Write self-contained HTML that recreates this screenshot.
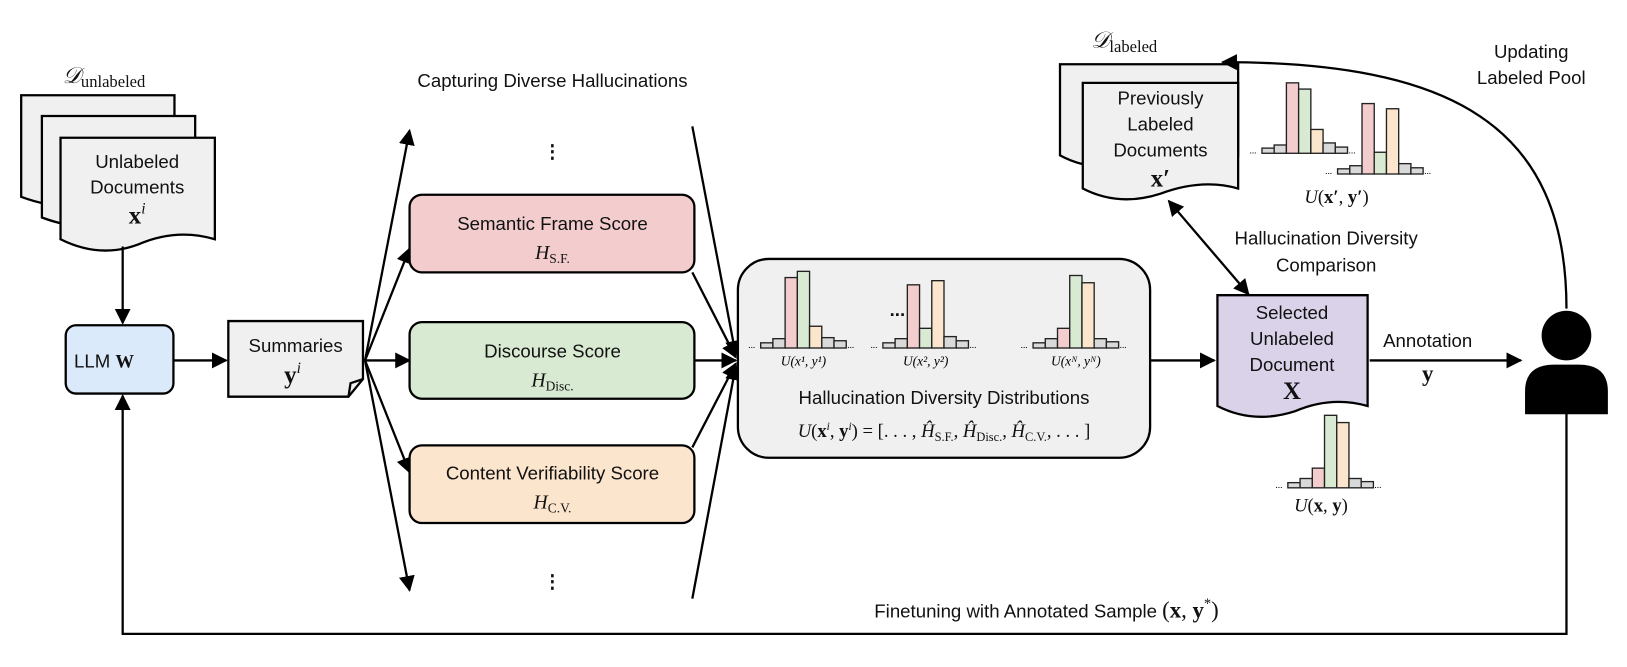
<!DOCTYPE html>
<html><head><meta charset="utf-8"><style>
html,body{margin:0;padding:0;background:#fff;width:1627px;height:667px;overflow:hidden}
svg{display:block}
.t{font-family:"Liberation Sans",sans-serif;font-size:18px;fill:#111;text-anchor:middle}
.m{font-family:"Liberation Serif",serif;fill:#111;text-anchor:middle}
</style></head><body>
<svg id="fig" width="1627" height="667" viewBox="0 0 1570 644">
<defs><marker id="ah" viewBox="0 0 10 10" refX="9" refY="5" markerWidth="7" markerHeight="7" orient="auto-start-reverse"><path d="M0,0L10,5L0,10z" fill="#000"/></marker></defs>
<g stroke="#000" stroke-width="2.2" fill="none">
<path d="M20,92H168V190Q130,180 95,195Q60,205 20,190Z" fill="#f0f0f0"/>
<path d="M40,112H188V210Q150,200 115,215Q80,225 40,210Z" fill="#f0f0f0"/>
<path d="M58,133H207V231Q170,220 133,236Q96,250 58,231Z" fill="#f0f0f0"/>
<line x1="118" y1="238" x2="118" y2="312" marker-end="url(#ah)"/>
<rect x="63" y="314" width="104" height="66" rx="10" fill="#dbeafb"/>
<line x1="167" y1="348" x2="218" y2="348" marker-end="url(#ah)"/>
<path d="M220,310H350V366L336,383H220Z" fill="#f0f0f0"/>
<path d="M350,366L338,370L336,383" />
<line x1="352" y1="348" x2="395" y2="126" marker-end="url(#ah)"/>
<line x1="352" y1="348" x2="395" y2="240" marker-end="url(#ah)"/>
<line x1="352" y1="348" x2="395" y2="348" marker-end="url(#ah)"/>
<line x1="352" y1="348" x2="395" y2="456" marker-end="url(#ah)"/>
<line x1="352" y1="348" x2="395" y2="570" marker-end="url(#ah)"/>
<rect x="395" y="188" width="275" height="75" rx="12" fill="#f3cccd"/>
<rect x="395" y="311" width="275" height="74" rx="12" fill="#d9ead3"/>
<rect x="395" y="430" width="275" height="75" rx="12" fill="#fce5cd"/>
<line x1="668" y1="122" x2="710" y2="343" marker-end="url(#ah)"/>
<line x1="668" y1="263" x2="710" y2="345" marker-end="url(#ah)"/>
<line x1="670" y1="348" x2="710" y2="348" marker-end="url(#ah)"/>
<line x1="668" y1="432" x2="710" y2="351" marker-end="url(#ah)"/>
<line x1="668" y1="578" x2="710" y2="353" marker-end="url(#ah)"/>
<rect x="712" y="250" width="398" height="192" rx="30" fill="#f0f0f0"/>
<line x1="1110" y1="348" x2="1172" y2="348" marker-end="url(#ah)"/>
<path d="M1175,285H1320V392Q1285,382 1250,397Q1210,410 1175,392Z" fill="#d9d2e9"/>
<line x1="1322" y1="348" x2="1468" y2="348" marker-end="url(#ah)"/>
<path d="M1023,62H1195V150Q1150,140 1110,155Q1060,170 1023,150Z" fill="#f0f0f0"/>
<path d="M1045,80H1195V182Q1160,172 1120,187Q1080,200 1045,182Z" fill="#f0f0f0"/>
<line x1="1128" y1="194" x2="1205" y2="284" marker-start="url(#ah)" marker-end="url(#ah)"/>
<path d="M1512,298C1512,120 1400,60 1180,60" marker-end="url(#ah)"/>
<path d="M1512,390V612H118V382" marker-end="url(#ah)"/>
</g>
<g>
<circle cx="1512" cy="324" r="24" fill="#000"/>
<path d="M1472,400V378Q1472,352 1500,352H1524Q1552,352 1552,378V400Z" fill="#000"/>
</g>
<g id="hists"></g>
<text class="m" x="100" y="80" font-size="22" font-style="italic">𝒟<tspan font-size="16" font-style="normal" dy="4">unlabeled</tspan></text>
<text class="t" x="132" y="162">Unlabeled</text>
<text class="t" x="132" y="187">Documents</text>
<text class="m" x="132" y="216" font-size="24" font-weight="bold">x<tspan font-style="italic" font-weight="normal" font-size="15" dy="-10">i</tspan></text>
<text class="t" x="100" y="355">LLM <tspan font-family="Liberation Serif" font-weight="bold">W</tspan></text>
<text class="t" x="285" y="340">Summaries</text>
<text class="m" x="282" y="370" font-size="24" font-weight="bold">y<tspan font-style="italic" font-weight="normal" font-size="15" dy="-10">i</tspan></text>
<text class="t" x="533" y="84">Capturing Diverse Hallucinations</text>
<text class="t" x="533" y="152" font-size="38" font-weight="bold">⋮</text>
<text class="t" x="533" y="567" font-size="38" font-weight="bold">⋮</text>
<text class="t" x="533" y="222">Semantic Frame Score</text>
<text class="m" x="533" y="250" font-size="19" font-style="italic">H<tspan font-style="normal" font-size="13" dy="4">S.F.</tspan></text>
<text class="t" x="533" y="345">Discourse Score</text>
<text class="m" x="533" y="373" font-size="19" font-style="italic">H<tspan font-style="normal" font-size="13" dy="4">Disc.</tspan></text>
<text class="t" x="533" y="463">Content Verifiability Score</text>
<text class="m" x="533" y="491" font-size="19" font-style="italic">H<tspan font-style="normal" font-size="13" dy="4">C.V.</tspan></text>
<text class="t" x="866" y="305" font-size="22" font-weight="bold">...</text>
<text class="t" x="911" y="390">Hallucination Diversity Distributions</text>
<text class="m" x="911" y="422" font-size="18"><tspan font-style="italic">U</tspan>(<tspan font-weight="bold">x</tspan><tspan font-size="11" dy="-7" font-style="italic">i</tspan><tspan dy="7">, </tspan><tspan font-weight="bold">y</tspan><tspan font-size="11" dy="-7" font-style="italic">i</tspan><tspan dy="7">) = [. . . , </tspan><tspan font-style="italic">Ĥ</tspan><tspan font-size="12" dy="4">S.F.</tspan><tspan dy="-4">, </tspan><tspan font-style="italic">Ĥ</tspan><tspan font-size="12" dy="4">Disc.</tspan><tspan dy="-4">, </tspan><tspan font-style="italic">Ĥ</tspan><tspan font-size="12" dy="4">C.V.</tspan><tspan dy="-4">, . . . ]</tspan></text>
<text class="t" x="1247" y="308">Selected</text>
<text class="t" x="1247" y="333">Unlabeled</text>
<text class="t" x="1247" y="358">Document</text>
<text class="m" x="1247" y="385" font-size="24" font-weight="bold">X</text>
<text class="t" x="1378" y="335">Annotation</text>
<text class="m" x="1378" y="368" font-size="22" font-weight="bold">y</text>
<text class="m" x="1275" y="494" font-size="18"><tspan font-style="italic">U</tspan>(<tspan font-weight="bold">x</tspan>, <tspan font-weight="bold">y</tspan>)</text>
<text class="m" x="1085" y="46" font-size="22" font-style="italic">𝒟<tspan font-size="16" font-style="normal" dy="4">labeled</tspan></text>
<text class="t" x="1120" y="101">Previously</text>
<text class="t" x="1120" y="126">Labeled</text>
<text class="t" x="1120" y="151">Documents</text>
<text class="m" x="1120" y="180" font-size="24" font-weight="bold">x′</text>
<text class="m" x="1290" y="196" font-size="18"><tspan font-style="italic">U</tspan>(<tspan font-weight="bold">x′</tspan>, <tspan font-weight="bold">y′</tspan>)</text>
<text class="t" x="1280" y="236">Hallucination Diversity</text>
<text class="t" x="1280" y="262">Comparison</text>
<text class="t" x="1478" y="56">Updating</text>
<text class="t" x="1478" y="81">Labeled Pool</text>
<text class="t" x="1010" y="596" font-size="20">Finetuning with Annotated Sample <tspan font-family="Liberation Serif" font-size="22">(<tspan font-weight="bold">x</tspan>, <tspan font-weight="bold">y</tspan><tspan font-size="14" dy="-9">*</tspan><tspan dy="9">)</tspan></tspan></text>
</svg>
<script>
const h1 = [5, 9, 68, 74, 21, 10, 7];
const h2 = [5, 9, 61, 19, 65, 11, 7];
const h3 = [5, 9, 19, 70, 63, 9, 6];
const hL1 = [5, 8, 68, 62, 23, 10, 6];
const hL2 = [5, 8, 68, 21, 63, 10, 6];
const hS = [5, 9, 19, 70, 63, 9, 6];
const hLabels = ["U(x¹, y¹)", "U(x², y²)", "U(xᴺ, yᴺ)"];
const barColors = ["#d9d9d9","#d9d9d9","#f3cccd","#d9ead3","#fce5cd","#d9d9d9","#d9d9d9"];
const NS = "http://www.w3.org/2000/svg";
const G = document.getElementById("hists");
function hist(vals, x0, base, name, label){
  const bw = 11.8;
  const g = document.createElementNS(NS,"g");
  
  
  vals.forEach((v,i)=>{
    const r = document.createElementNS(NS,"rect");
    r.setAttribute("x", x0 + i*bw); r.setAttribute("y", base - v);
    r.setAttribute("width", bw); r.setAttribute("height", v);
    r.setAttribute("fill", barColors[i]); r.setAttribute("stroke","#222"); r.setAttribute("stroke-width","1.3");
    
    
    g.appendChild(r);
  });
  [[x0-12],[x0+vals.length*bw+1]].forEach(p=>{
    const t=document.createElementNS(NS,"text");
    t.setAttribute("x",p[0]);t.setAttribute("y",base);t.setAttribute("font-size","9");t.textContent="...";
    g.appendChild(t);
  });
  if(label){
    const t=document.createElementNS(NS,"text");
    t.setAttribute("x",x0+vals.length*bw/2);t.setAttribute("y",base+17);
    t.setAttribute("font-size","13");t.setAttribute("font-family","Liberation Serif, serif");
    t.setAttribute("font-style","italic");t.setAttribute("text-anchor","middle");t.textContent=label;
    g.appendChild(t);
  }
  G.appendChild(g);
}
hist(h1, 734, 336, 'hist-1', hLabels[0]);
hist(h2, 852, 336, 'hist-2', hLabels[1]);
hist(h3, 997, 336, 'hist-n', hLabels[2]);
hist(hL1, 1218, 148, 'hist-labeled-1', null);
hist(hL2, 1291, 168, 'hist-labeled-2', null);
hist(hS, 1243, 471, 'hist-selected', null);
</script>
</body></html>
